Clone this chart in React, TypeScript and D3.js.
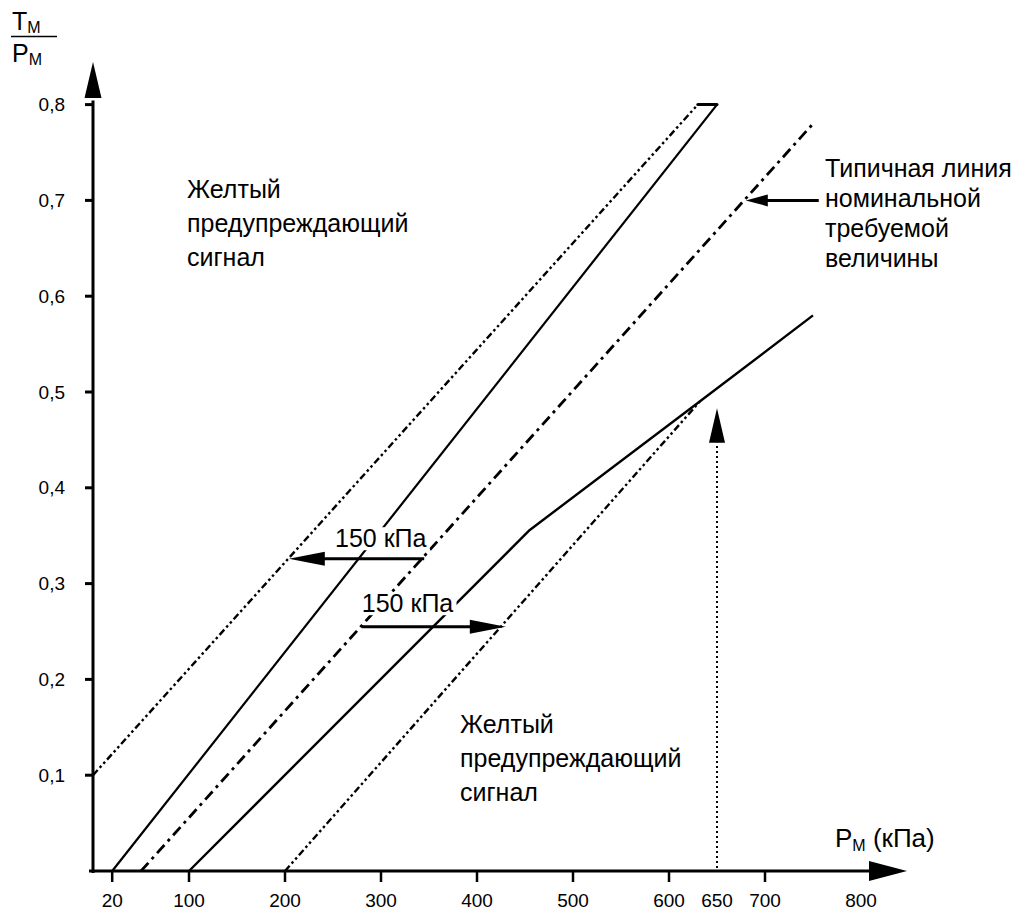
import React from "react";
import * as d3 from "d3";

type Pt = [number, number];

// Axis ticks
const pressureTickLabels = [20, 100, 200, 300, 400, 500, 600, 650, 700, 800];
const pressureTickMarks = [20, 100, 200, 300, 400, 500, 600, 700];
const ratioTicks = [0.1, 0.2, 0.3, 0.4, 0.5, 0.6, 0.7, 0.8];
const ratioTickLabels = ["0,1", "0,2", "0,3", "0,4", "0,5", "0,6", "0,7", "0,8"];

// Curves: P_M (kPa) vs T_M / P_M
const nominalLine: Pt[] = [[50, 0], [750, 0.78]];
const upperWarningLimit: Pt[] = [[0, 0.1], [630, 0.8]];
const upperWarningCap: Pt[] = [[630, 0.8], [650, 0.8]];
const upperBand: Pt[] = [[20, 0], [650, 0.8]];
const lowerBand: Pt[] = [[100, 0], [455, 0.356], [632, 0.49], [750, 0.58]];
const lowerWarningLimit: Pt[] = [[200, 0], [632, 0.49]];

// 650 kPa marker (vertical dotted line with arrow)
const markerPressure = 650;
const markerLineTop = 0.447;
const markerArrowTip = 0.483;

// 150 kPa offset arrows
const offsetArrowLeft = { ratio: 0.326, from: 345, to: 204, label: "150 кПа" };
const offsetArrowRight = { ratio: 0.255, from: 280, to: 430, label: "150 кПа" };

// Nominal line callout
const nominalCallout = { ratio: 0.7, from: 756, to: 680 };
const nominalCalloutText = ["Типичная линия", "номинальной", "требуемой", "величины"];
const warningText = ["Желтый", "предупреждающий", "сигнал"];

const W = 1027;
const H = 912;
const FONT = "'Liberation Sans', Arial, Helvetica, sans-serif";
const LABEL_SIZE = 25;
const TICK_SIZE = 19;

const x = d3.scaleLinear().domain([0, 800]).range([93, 861]);
const y = d3.scaleLinear().domain([0, 0.8]).range([871, 104.6]);

const line = d3
  .line<Pt>()
  .x((d) => x(d[0]))
  .y((d) => y(d[1]));

function arrowHead(tipX: number, tipY: number, dx: number, dy: number, len: number, half: number) {
  const bx = tipX - dx * len;
  const by = tipY - dy * len;
  const px = -dy;
  const py = dx;
  return `${tipX},${tipY} ${bx + px * half},${by + py * half} ${bx - px * half},${by - py * half}`;
}

function HArrow({ x1, x2, yy }: { x1: number; x2: number; yy: number }) {
  const dir = Math.sign(x2 - x1);
  const head = 36;
  return (
    <g>
      <line x1={x1} y1={yy} x2={x2 - dir * head + dir * 2} y2={yy} stroke="#000" strokeWidth={3} />
      <polygon points={arrowHead(x2, yy, dir, 0, head, 7)} fill="#000" />
    </g>
  );
}

// Text drawn over a white box so the curves behind it are interrupted
function KnockoutText({ tx, ty, text }: { tx: number; ty: number; text: string }) {
  const w = text.length * LABEL_SIZE * 0.53;
  return (
    <g>
      <rect x={tx - 2} y={ty - LABEL_SIZE * 0.78} width={w + 4} height={LABEL_SIZE * 0.92} fill="#fff" />
      <text x={tx} y={ty} fontSize={LABEL_SIZE}>
        {text}
      </text>
    </g>
  );
}

export default function App() {
  const axisY = y(0);
  const axisX = x(0);

  const leftArrowY = y(offsetArrowLeft.ratio);
  const rightArrowY = y(offsetArrowRight.ratio);
  const calloutY = y(nominalCallout.ratio);
  const limitDash = "7 3 2.5 3 2.5 3";

  return (
    <svg
      width={W}
      height={H}
      viewBox={`0 0 ${W} ${H}`}
      style={{ position: "absolute", left: 0, top: 0, background: "#fff" }}
      fontFamily={FONT}
    >
      <rect x={0} y={0} width={W} height={H} fill="#fff" />

      {/* Y axis title: T_M / P_M */}
      <g fill="#000">
        <text x={12} y={30} fontSize={25}>
          T<tspan fontSize={16} dy={3}>M</tspan>
        </text>
        <line x1={11} y1={36.5} x2={57} y2={36.5} stroke="#000" strokeWidth={1.5} />
        <text x={12} y={62} fontSize={25}>
          P<tspan fontSize={16} dy={3}>M</tspan>
        </text>
      </g>

      {/* Y axis */}
      <line x1={axisX} y1={axisY + 2} x2={axisX} y2={y(0.8) - 4} stroke="#000" strokeWidth={3} />
      <polygon points={arrowHead(axisX, 62, 0, -1, 36, 8.5)} fill="#000" />
      {ratioTicks.map((t, i) => (
        <g key={t}>
          <line x1={axisX - 8} y1={y(t)} x2={axisX} y2={y(t)} stroke="#000" strokeWidth={3} />
          <text x={65} y={y(t)} dy="0.35em" fontSize={TICK_SIZE} textAnchor="end">
            {ratioTickLabels[i]}
          </text>
        </g>
      ))}

      {/* X axis */}
      <line x1={axisX - 4} y1={axisY} x2={872} y2={axisY} stroke="#000" strokeWidth={3} />
      <polygon points={arrowHead(907, axisY, 1, 0, 38, 10)} fill="#000" />
      {pressureTickMarks.map((t) => (
        <line key={t} x1={x(t)} y1={axisY} x2={x(t)} y2={axisY + 11} stroke="#000" strokeWidth={2.5} />
      ))}
      {pressureTickLabels.map((t) => (
        <text key={t} x={x(t)} y={907} fontSize={TICK_SIZE} textAnchor="middle">
          {t}
        </text>
      ))}
      <text x={835} y={847} fontSize={26}>
        P<tspan fontSize={16} dy={4}>M</tspan>
        <tspan dy={-4}> (кПа)</tspan>
      </text>

      {/* Curves */}
      <path d={line(upperWarningLimit) ?? ""} fill="none" stroke="#000" strokeWidth={2.4} strokeDasharray={limitDash} />
      <path d={line(upperWarningCap) ?? ""} fill="none" stroke="#000" strokeWidth={3} strokeLinecap="round" />
      <path d={line(upperBand) ?? ""} fill="none" stroke="#000" strokeWidth={2.2} />
      <path d={line(nominalLine) ?? ""} fill="none" stroke="#000" strokeWidth={2.8} strokeDasharray="11 5 3 5" />
      <path d={line(lowerBand) ?? ""} fill="none" stroke="#000" strokeWidth={2.4} strokeLinejoin="round" />
      <path d={line(lowerWarningLimit) ?? ""} fill="none" stroke="#000" strokeWidth={2.4} strokeDasharray={limitDash} />

      {/* 650 kPa marker */}
      <line
        x1={x(markerPressure)}
        y1={axisY - 3}
        x2={x(markerPressure)}
        y2={y(markerLineTop)}
        stroke="#000"
        strokeWidth={2}
        strokeDasharray="2 3"
      />
      <polygon
        points={arrowHead(x(markerPressure), y(markerArrowTip), 0, -1, y(markerLineTop) - y(markerArrowTip), 8)}
        fill="#000"
      />

      {/* 150 kPa offset arrows */}
      <KnockoutText tx={335} ty={leftArrowY - 12} text={offsetArrowLeft.label} />
      <HArrow x1={x(offsetArrowLeft.from)} x2={x(offsetArrowLeft.to)} yy={leftArrowY} />
      <KnockoutText tx={x(offsetArrowRight.from)} ty={rightArrowY - 15} text={offsetArrowRight.label} />
      <HArrow x1={x(offsetArrowRight.from)} x2={x(offsetArrowRight.to)} yy={rightArrowY} />

      {/* Nominal line callout */}
      <line
        x1={x(nominalCallout.from)}
        y1={calloutY}
        x2={x(nominalCallout.to) + 20}
        y2={calloutY}
        stroke="#000"
        strokeWidth={3}
      />
      <polygon points={arrowHead(x(nominalCallout.to), calloutY, -1, 0, 22, 6)} fill="#000" />
      {nominalCalloutText.map((s, i) => (
        <text key={s} x={825} y={177 + i * 30} fontSize={LABEL_SIZE}>
          {s}
        </text>
      ))}

      {/* Warning zone labels */}
      {warningText.map((s, i) => (
        <text key={"a" + i} x={187} y={198 + i * 34} fontSize={LABEL_SIZE}>
          {s}
        </text>
      ))}
      {warningText.map((s, i) => (
        <text key={"b" + i} x={460} y={733 + i * 34} fontSize={LABEL_SIZE}>
          {s}
        </text>
      ))}
    </svg>
  );
}
